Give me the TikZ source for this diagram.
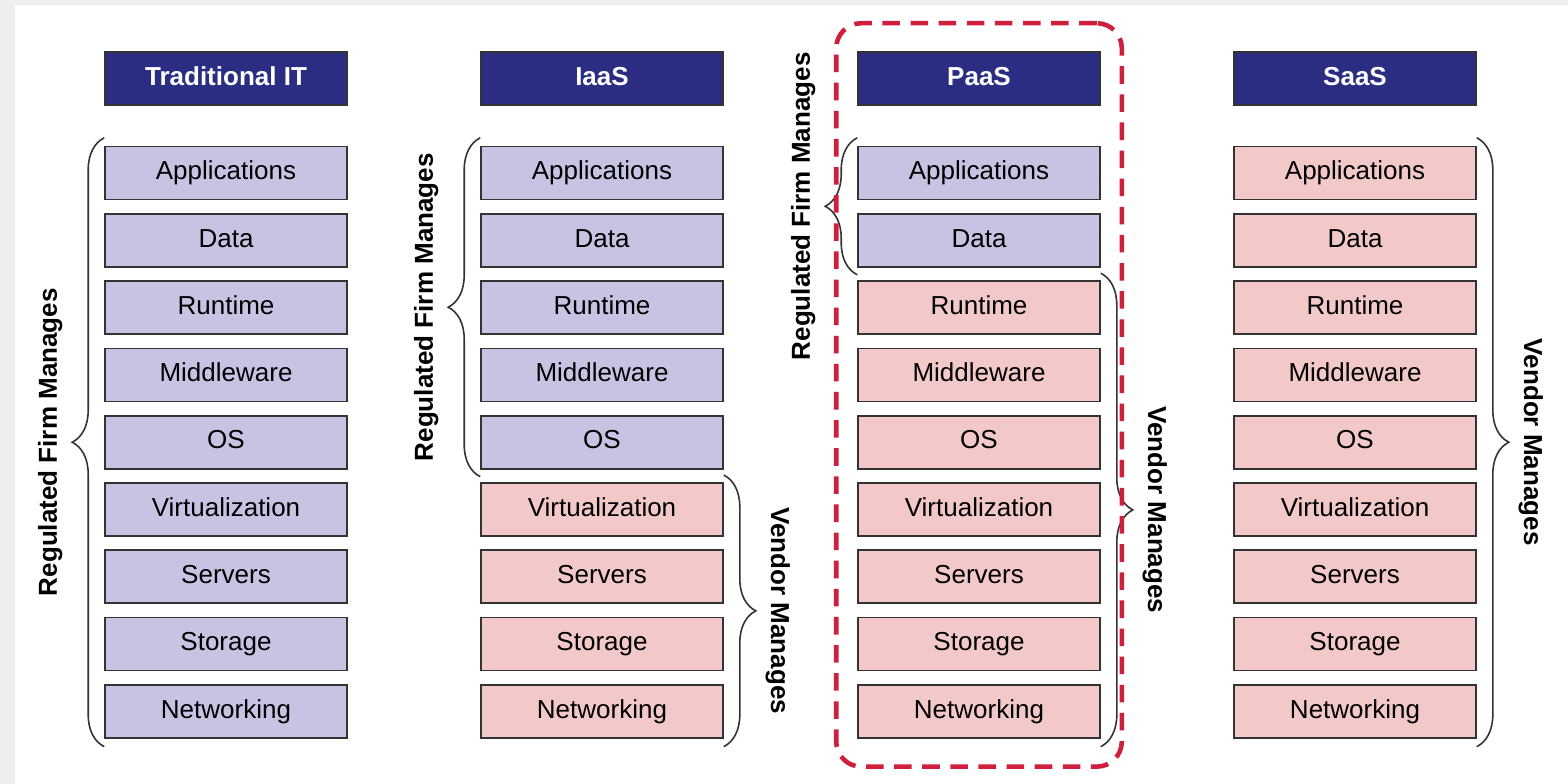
\documentclass[tikz,border=0pt]{standalone}
\usepackage{fontspec}
\setmainfont{Liberation Sans}
\usetikzlibrary{positioning,fit,decorations.pathreplacing}
\definecolor{navy}{HTML}{2B2D83}
\definecolor{lilac}{HTML}{C7C3E2}
\definecolor{rose}{HTML}{F2C8C8}
\definecolor{edge}{HTML}{333333}
\definecolor{crimson}{HTML}{D01F3C}
\definecolor{frame}{HTML}{EEEEEE}

\begin{document}
\begin{tikzpicture}[node distance=2.54mm,
txt/.style={font=\fontsize{14.8}{17}\selectfont},
layer/.style={txt,draw=edge,line width=0.9pt,minimum width=4.84cm,minimum height=1.06cm,inner sep=0pt,text height=1.75ex,text depth=0.3ex},
head/.style={layer,fill=navy,text=white,font=\fontsize{14.8}{17}\selectfont\bfseries},
firm/.style={layer,fill=lilac},
vendor/.style={layer,fill=rose},
brace/.style={decorate,decoration={brace,amplitude=0.64cm},draw=edge,line width=0.9pt},
firmtag/.style={midway,xshift=-0.82cm,rotate=90,anchor=south,inner sep=0pt,font=\fontsize{14.8}{17}\selectfont\bfseries},
vendortag/.style={midway,xshift=0.82cm,rotate=-90,anchor=south,inner sep=0pt,font=\fontsize{14.8}{17}\selectfont\bfseries}]
\fill[frame] (0,0) rectangle (31.36,-15.68);
\fill[white] (0.30,-0.10) rectangle (31.36,-15.68);
\useasboundingbox (0,0) rectangle (31.36,-15.68);
% traditional IT
\node[head] (thead) at (4.52,-1.57) {Traditional IT};
\node[firm,below=8.0mm of thead] (tapp) {Applications};
\node[firm,below=of tapp] (tdata) {Data};
\node[firm,below=of tdata] (trun) {Runtime};
\node[firm,below=of trun] (tmid) {Middleware};
\node[firm,below=of tmid] (tos) {OS};
\node[firm,below=of tos] (tvirt) {Virtualization};
\node[firm,below=of tvirt] (tsrv) {Servers};
\node[firm,below=of tsrv] (tstor) {Storage};
\node[firm,below=of tstor] (tnet) {Networking};
% IaaS
\node[head] (ihead) at (12.04,-1.57) {IaaS};
\node[firm,below=8.0mm of ihead] (iapp) {Applications};
\node[firm,below=of iapp] (idata) {Data};
\node[firm,below=of idata] (irun) {Runtime};
\node[firm,below=of irun] (imid) {Middleware};
\node[firm,below=of imid] (ios) {OS};
\node[vendor,below=of ios] (ivirt) {Virtualization};
\node[vendor,below=of ivirt] (isrv) {Servers};
\node[vendor,below=of isrv] (istor) {Storage};
\node[vendor,below=of istor] (inet) {Networking};
% PaaS
\node[head] (phead) at (19.58,-1.57) {PaaS};
\node[firm,below=8.0mm of phead] (papp) {Applications};
\node[firm,below=of papp] (pdata) {Data};
\node[vendor,below=of pdata] (prun) {Runtime};
\node[vendor,below=of prun] (pmid) {Middleware};
\node[vendor,below=of pmid] (pos) {OS};
\node[vendor,below=of pos] (pvirt) {Virtualization};
\node[vendor,below=of pvirt] (psrv) {Servers};
\node[vendor,below=of psrv] (pstor) {Storage};
\node[vendor,below=of pstor] (pnet) {Networking};
% SaaS
\node[head] (shead) at (27.10,-1.57) {SaaS};
\node[vendor,below=8.0mm of shead] (sapp) {Applications};
\node[vendor,below=of sapp] (sdata) {Data};
\node[vendor,below=of sdata] (srun) {Runtime};
\node[vendor,below=of srun] (smid) {Middleware};
\node[vendor,below=of smid] (sos) {OS};
\node[vendor,below=of sos] (svirt) {Virtualization};
\node[vendor,below=of svirt] (ssrv) {Servers};
\node[vendor,below=of ssrv] (sstor) {Storage};
\node[vendor,below=of sstor] (snet) {Networking};
% who manages what
\draw[brace] ([yshift=-1.6mm]tnet.south west) -- node[firmtag]{Regulated Firm Manages} ([yshift=1.6mm]tapp.north west);
\draw[brace] ([yshift=-1.43mm]ios.south west) -- node[firmtag]{Regulated Firm Manages} ([yshift=1.6mm]iapp.north west);
\draw[brace] ([yshift=1.43mm]ivirt.north east) -- node[vendortag]{Vendor Manages} ([yshift=-1.6mm]inet.south east);
\draw[brace] ([yshift=-1.43mm]pdata.south west) -- node[firmtag]{Regulated Firm Manages} ([yshift=1.6mm]papp.north west);
\draw[brace] ([yshift=1.43mm]prun.north east) -- node[vendortag]{Vendor Manages} ([yshift=-1.6mm]pnet.south east);
\draw[brace] ([yshift=1.6mm]sapp.north east) -- node[vendortag]{Vendor Manages} ([yshift=-1.6mm]snet.south east);
\node[fit=(phead)(pnet),inner xsep=4.2mm,inner ysep=5.6mm,draw=crimson,line width=2.6pt,dash pattern=on 10pt off 6pt,rounded corners=5mm] (paasbox) {};
\end{tikzpicture}
\end{document}
